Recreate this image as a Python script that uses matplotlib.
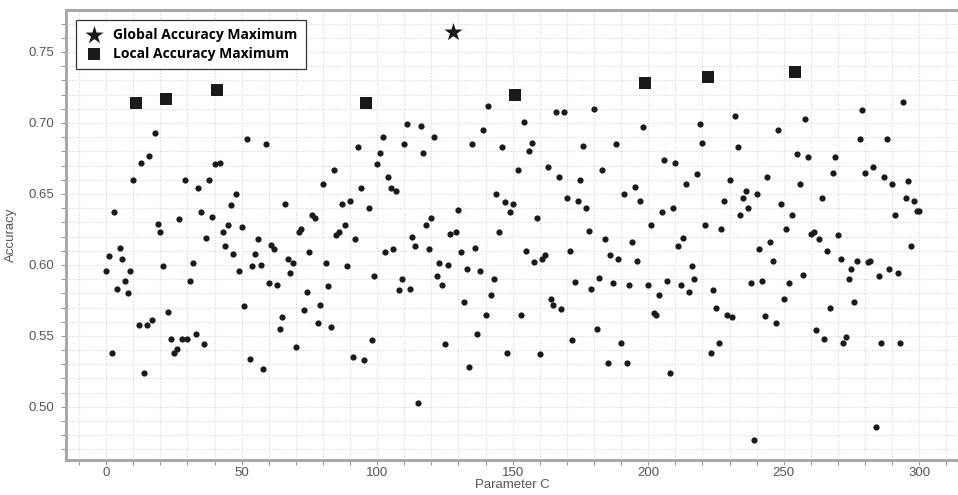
import matplotlib
matplotlib.use("Agg")
import matplotlib.pyplot as plt
from matplotlib.ticker import MultipleLocator

plt.rcParams['font.family'] = ['Liberation Sans', 'DejaVu Sans']

#### accuracy for every value of C (0 .. 300)
c_values = list(range(0, 301))
accuracy = [
    0.596, 0.606, 0.538, 0.637, 0.583, 0.612, 0.604, 0.589, 0.580, 0.596,
    0.660, 0.714, 0.558, 0.672, 0.524, 0.558, 0.677, 0.561, 0.693, 0.629,
    0.623, 0.599, 0.717, 0.567, 0.548, 0.538, 0.541, 0.632, 0.548, 0.660,
    0.548, 0.589, 0.601, 0.551, 0.654, 0.637, 0.544, 0.619, 0.660, 0.634,
    0.671, 0.723, 0.672, 0.623, 0.613, 0.628, 0.642, 0.608, 0.650, 0.596,
    0.627, 0.571, 0.689, 0.534, 0.599, 0.608, 0.618, 0.600, 0.527, 0.685,
    0.587, 0.614, 0.611, 0.586, 0.555, 0.563, 0.643, 0.604, 0.594, 0.601,
    0.542, 0.623, 0.625, 0.568, 0.581, 0.609, 0.635, 0.633, 0.559, 0.572,
    0.657, 0.601, 0.585, 0.556, 0.667, 0.621, 0.623, 0.643, 0.628, 0.599,
    0.645, 0.535, 0.618, 0.683, 0.654, 0.533, 0.714, 0.640, 0.547, 0.592,
    0.671, 0.679, 0.690, 0.609, 0.662, 0.654, 0.611, 0.652, 0.582, 0.590,
    0.685, 0.699, 0.583, 0.620, 0.613, 0.503, 0.698, 0.679, 0.628, 0.611,
    0.633, 0.690, 0.592, 0.601, 0.586, 0.544, 0.600, 0.622, 0.764, 0.623,
    0.639, 0.609, 0.574, 0.597, 0.528, 0.685, 0.612, 0.551, 0.596, 0.695,
    0.565, 0.712, 0.579, 0.590, 0.650, 0.623, 0.683, 0.644, 0.538, 0.637,
    0.643, 0.720, 0.667, 0.565, 0.701, 0.610, 0.680, 0.686, 0.602, 0.633,
    0.537, 0.604, 0.607, 0.669, 0.576, 0.572, 0.708, 0.662, 0.569, 0.708,
    0.647, 0.610, 0.547, 0.588, 0.645, 0.660, 0.684, 0.640, 0.624, 0.583,
    0.710, 0.555, 0.591, 0.667, 0.618, 0.531, 0.607, 0.587, 0.685, 0.604,
    0.545, 0.650, 0.531, 0.586, 0.616, 0.655, 0.603, 0.645, 0.697, 0.728,
    0.586, 0.628, 0.566, 0.565, 0.579, 0.637, 0.674, 0.589, 0.524, 0.640,
    0.672, 0.613, 0.586, 0.619, 0.657, 0.581, 0.599, 0.590, 0.664, 0.699,
    0.686, 0.628, 0.732, 0.538, 0.582, 0.570, 0.545, 0.625, 0.645, 0.565,
    0.660, 0.563, 0.705, 0.683, 0.635, 0.647, 0.652, 0.640, 0.587, 0.477,
    0.650, 0.611, 0.589, 0.564, 0.662, 0.616, 0.603, 0.559, 0.695, 0.643,
    0.576, 0.625, 0.587, 0.635, 0.736, 0.678, 0.657, 0.593, 0.703, 0.676,
    0.622, 0.623, 0.554, 0.618, 0.647, 0.548, 0.610, 0.570, 0.665, 0.676,
    0.621, 0.604, 0.545, 0.549, 0.590, 0.597, 0.574, 0.603, 0.689, 0.709,
    0.665, 0.602, 0.603, 0.669, 0.486, 0.592, 0.545, 0.662, 0.689, 0.597,
    0.657, 0.635, 0.594, 0.545, 0.715, 0.647, 0.659, 0.613, 0.645, 0.638,
    0.638,
]
local_max_c = [11, 22, 41, 96, 151, 199, 222, 254]
global_max_c = [128]

special = set(local_max_c + global_max_c)
dot_x = [c for c in c_values if c not in special]
dot_y = [accuracy[c] for c in dot_x]

fig = plt.figure(figsize=(9.58, 4.95), dpi=100)
ax = fig.add_axes([0.069, 0.071, 0.931, 0.909])

ax.scatter(dot_x, dot_y, s=20, color='#1a1a1a', zorder=3, linewidths=0)
ax.scatter(global_max_c, [accuracy[c] for c in global_max_c], marker='*', s=190,
           color='#1a1a1a', zorder=4, linewidths=0, label='Global Accuracy Maximum')
ax.scatter(local_max_c, [accuracy[c] for c in local_max_c], marker='s', s=75,
           color='#1a1a1a', zorder=4, linewidths=0, label='Local Accuracy Maximum')

ax.set_xlim(-14.75, 314.3)
ax.set_ylim(0.4627, 0.7796)
ax.xaxis.set_major_locator(MultipleLocator(50))
ax.xaxis.set_minor_locator(MultipleLocator(10))
ax.yaxis.set_major_locator(MultipleLocator(0.05))
ax.yaxis.set_minor_locator(MultipleLocator(0.01))
ax.yaxis.set_major_formatter(matplotlib.ticker.FormatStrFormatter('%.2f'))

ax.grid(True, which='both', color='#d8d8d8', linestyle=(0, (1, 1.5)), linewidth=0.8)
ax.set_axisbelow(True)

for side in ['left', 'bottom', 'top']:
    ax.spines[side].set_color('#a8a8a8')
    ax.spines[side].set_linewidth(2.2)
ax.spines['right'].set_visible(False)

ax.tick_params(which='both', direction='out', colors='#9a9a9a', length=3.5, width=0.8,
               labelcolor='#555555', labelsize=9.5)
ax.tick_params(axis='x', pad=1.5)
ax.tick_params(axis='y', pad=5)

ax.set_xlabel('Parameter C', fontsize=9.5, color='#555555', labelpad=0)
ax.set_ylabel('Accuracy', fontsize=9.5, color='#555555', labelpad=8)

leg = ax.legend(loc='upper left', bbox_to_anchor=(0.011, 0.978), borderaxespad=0,
                fancybox=False, framealpha=1, edgecolor='#333333', handletextpad=0.7,
                borderpad=0.6, labelspacing=0.35, handlelength=1.4,
                prop={'family': 'Open Sans', 'weight': 'bold', 'size': 10})
leg.get_frame().set_linewidth(0.9)

fig.savefig('out.png', dpi=100)
